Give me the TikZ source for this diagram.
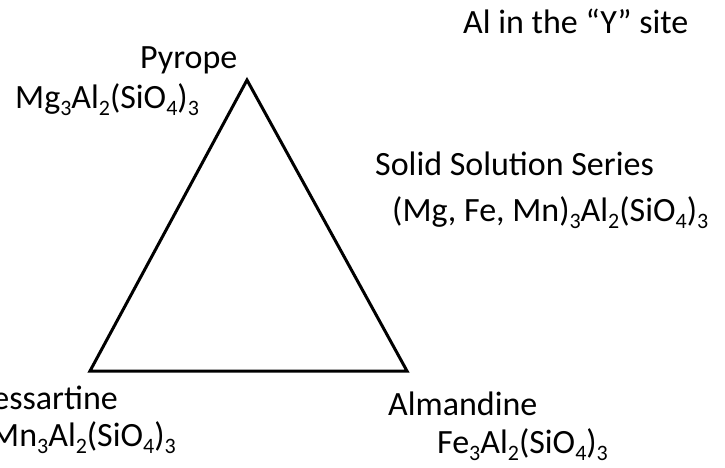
\documentclass[tikz,border=0pt]{standalone}
\usepackage{fontspec}
\setmainfont{Carlito}
\newcommand\lsub[1]{\raisebox{-0.22em}{\fontsize{22}{22}\selectfont #1}}
\tikzset{lbl/.style={anchor=base west,inner sep=0pt,font=\fontsize{34}{38}\selectfont}}
\begin{document}
\begin{tikzpicture}[x=1pt,y=-1pt]
\useasboundingbox (0,0) rectangle (725,467);
\coordinate (top) at (247,80);
\coordinate (bl) at (90,371);
\coordinate (br) at (407,371);
\draw[line width=3pt,line join=miter] (top) -- (br) -- (bl) -- cycle;
\node[lbl] (pyr) at (140,68) {Pyrope};
\node[lbl] (pyrf) at (15,108) {Mg\lsub{3}Al\lsub{2}(SiO\lsub{4})\lsub{3}};
\node[lbl] (ysite) at (463,33) {Al in the “Y” site};
\node[lbl] (sss) at (375,175) {Solid Solution Series};
\node[lbl] (sssf) at (392,221) {(Mg, Fe, Mn)\lsub{3}Al\lsub{2}(SiO\lsub{4})\lsub{3}};
\node[lbl,anchor=base east] (sps) at (118,409) {Spessartine};
\node[lbl,anchor=base east] (spsf) at (176,446) {Mn\lsub{3}Al\lsub{2}(SiO\lsub{4})\lsub{3}};
\node[lbl] (alm) at (388,415) {Almandine};
\node[lbl] (almf) at (437,453) {Fe\lsub{3}Al\lsub{2}(SiO\lsub{4})\lsub{3}};
\end{tikzpicture}
\end{document}
